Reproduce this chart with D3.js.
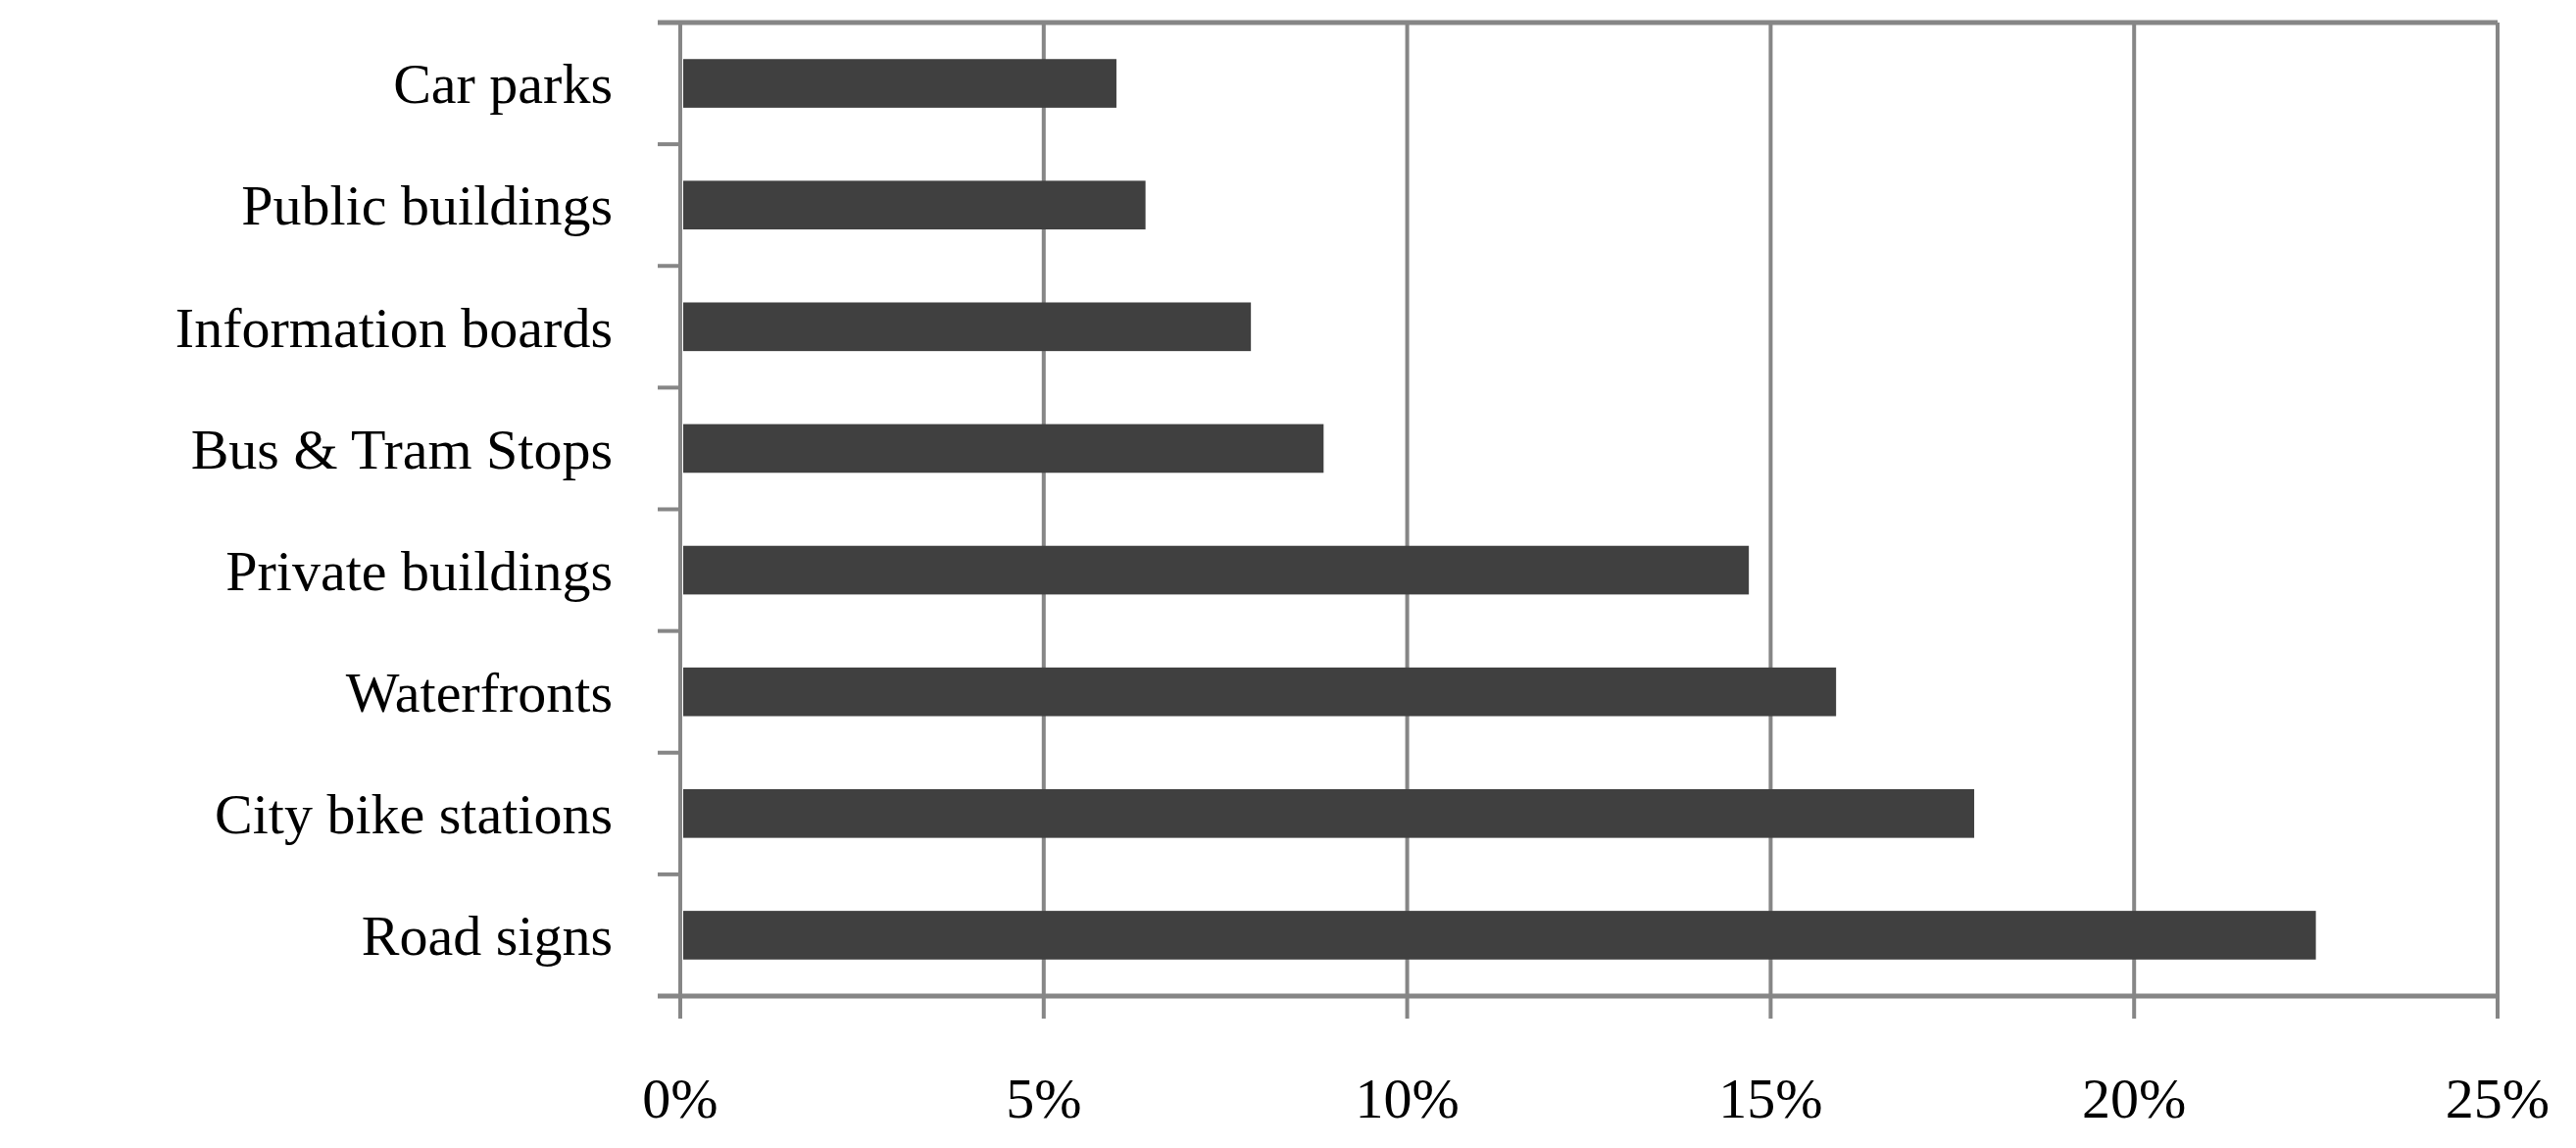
<!DOCTYPE html>
<html><head><meta charset="utf-8">
<script src="https://cdn.jsdelivr.net/npm/d3@7"></script>
<style>body{margin:0;background:#fff}</style></head>
<body><svg id="c" width="2628" height="1171"></svg>
<script>
const categories = ["Car parks","Public buildings","Information boards ","Bus & Tram Stops","Private buildings","Waterfronts","City bike stations","Road signs"];
const values = [6.0,6.4,7.85,8.85,14.7,15.9,17.8,22.5];
const tickValues = [0,5,10,15,20,25];

const svg = d3.select("#c");
const L=694,R=2548,T=23,B=1016;
const x=d3.scaleLinear().domain([0,25]).range([L,R]);
const y=d3.scaleBand().domain(categories).range([T,B]).paddingInner(0.6).paddingOuter(0.3);
const yb=d3.scaleBand().domain(categories).range([T,B]);
const grey="#868686";
// gridlines
svg.append("g").selectAll("line").data(tickValues).join("line")
 .attr("x1",d=>x(d)).attr("x2",d=>x(d)).attr("y1",T).attr("y2",B+23)
 .attr("stroke",grey).attr("stroke-width",4);
// top and bottom lines
[T,B].forEach(v=>svg.append("line").attr("x1",L-23).attr("x2",R).attr("y1",v).attr("y2",v).attr("stroke",grey).attr("stroke-width",5));
// left ticks
svg.append("g").selectAll("line").data(categories.slice(1)).join("line")
 .attr("x1",L-23).attr("x2",L).attr("y1",d=>yb(d)).attr("y2",d=>yb(d)).attr("stroke",grey).attr("stroke-width",4);
// bars
svg.append("g").selectAll("rect").data(categories).join("rect")
 .attr("x",x(0)+3).attr("y",d=>y(d)).attr("height",y.bandwidth())
 .attr("width",(d,i)=>x(values[i])-x(0)-3).attr("fill","#404040");
// labels
svg.append("g").selectAll("text").data(categories).join("text")
 .attr("x",625).attr("y",d=>yb(d)+yb.bandwidth()/2).attr("dy","0.35em")
 .attr("text-anchor","end").attr("font-family","Liberation Serif, serif").attr("font-size",58)
 .text(d=>d);
svg.append("g").selectAll("text").data(tickValues).join("text")
 .attr("x",d=>x(d)).attr("y",1140).attr("text-anchor","middle")
 .attr("font-family","Liberation Serif, serif").attr("font-size",58)
 .text(d=>d+"%");
</script></body></html>
